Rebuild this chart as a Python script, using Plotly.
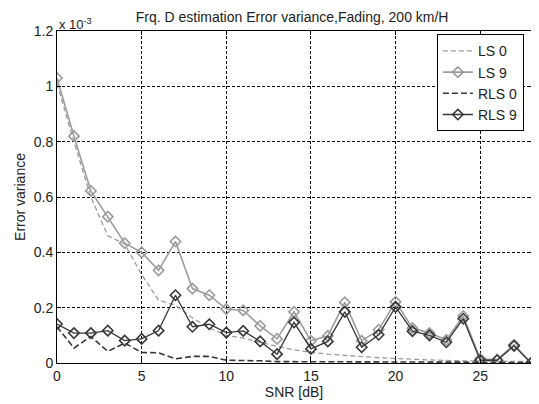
import plotly.graph_objects as go

# error variance values, in units of 1e-3
snr = list(range(0, 29))

ls_0 = [1.01, 0.80, 0.60, 0.46, 0.43, 0.32, 0.227, 0.209, 0.163, 0.127, 0.10,
        0.09, 0.075, 0.06, 0.048, 0.038, 0.032, 0.027, 0.022, 0.019, 0.016,
        0.013, 0.011, 0.009, 0.008, 0.007, 0.006, 0.005, 0.005]
ls_9 = [1.03, 0.82, 0.622, 0.529, 0.433, 0.40, 0.335, 0.439, 0.269, 0.245, 0.195,
        0.19, 0.134, 0.087, 0.185, 0.08, 0.098, 0.219, 0.08, 0.12, 0.221,
        0.126, 0.108, 0.084, 0.17, 0.015, 0.012, 0.066, 0.0]
rls_0 = [0.131, 0.054, 0.096, 0.042, 0.072, 0.038, 0.037, 0.015, 0.024, 0.024, 0.01,
         0.01, 0.008, 0.005, 0.005, 0.004, 0.004, 0.004, 0.003, 0.003, 0.003,
         0.003, 0.003, 0.003, 0.003, 0.002, 0.002, 0.002, 0.002]
rls_9 = [0.141, 0.108, 0.108, 0.117, 0.081, 0.087, 0.117, 0.245, 0.131, 0.14, 0.11,
         0.116, 0.078, 0.032, 0.147, 0.051, 0.078, 0.185, 0.057, 0.102, 0.203,
         0.115, 0.10, 0.075, 0.16, 0.01, 0.01, 0.062, 0.0]

light = '#9c9c9c'
dark = '#383838'
txt = '#222'

fig = go.Figure()
fig.add_trace(go.Scatter(x=snr, y=ls_0, mode='lines', name='LS 0',
                         line=dict(color=light, width=1.3, dash='5px,3px')))
fig.add_trace(go.Scatter(x=snr, y=ls_9, mode='lines+markers', name='LS 9',
                         line=dict(color=light, width=1.6),
                         marker=dict(symbol='diamond-open', size=8, color=light, line=dict(width=1.6))))
fig.add_trace(go.Scatter(x=snr, y=rls_0, mode='lines', name='RLS 0',
                         line=dict(color=dark, width=1.6, dash='6px,3px')))
fig.add_trace(go.Scatter(x=snr, y=rls_9, mode='lines+markers', name='RLS 9',
                         line=dict(color=dark, width=1.3),
                         marker=dict(symbol='diamond-open', size=8, color=dark, line=dict(width=1.6))))

axis_style = dict(showline=True, linecolor='black', linewidth=1, mirror='ticks',
                  ticks='inside', ticklen=4, tickcolor='black', automargin=False,
                  showgrid=True, gridcolor='black', gridwidth=1, griddash='3px,2px',
                  zeroline=False, tickfont=dict(size=14, color=txt))

fig.update_xaxes(range=[0, 28], tickvals=[0, 5, 10, 15, 20, 25],
                 title=dict(text='SNR [dB]', font=dict(size=14, color=txt), standoff=2),
                 **axis_style)
fig.update_yaxes(range=[0, 1.2], tickvals=[0, 0.2, 0.4, 0.6, 0.8, 1, 1.2],
                 ticktext=['0', '0.2', '0.4', '0.6', '0.8', '1', '1.2'],
                 title=dict(text='Error variance', font=dict(size=14, color=txt), standoff=4),
                 **axis_style)

fig.add_annotation(text='x 10<sup>-3</sup>', xref='paper', yref='paper', x=0, y=1.0,
                   xanchor='left', yanchor='bottom', showarrow=False,
                   font=dict(size=13, color=txt), yshift=-3)

# the page body adds an 8px offset, so the figure is sized to the visible area
fig.update_layout(
    width=531, height=396,
    margin=dict(l=49, r=8, t=23, b=41),
    paper_bgcolor='white', plot_bgcolor='white',
    font=dict(family='Liberation Sans, Arial, sans-serif'),
    title=dict(text='Frq. D estimation Error variance,Fading, 200 km/H',
               x=0.535, xanchor='center', y=0.978, yanchor='middle',
               font=dict(size=14, color=txt)),
    legend=dict(x=0.985, y=0.99, xanchor='right', yanchor='top',
                bgcolor='white', bordercolor='black', borderwidth=1,
                font=dict(size=14, color=txt), tracegroupgap=0),
    showlegend=True,
)

fig.write_html("out.html")
